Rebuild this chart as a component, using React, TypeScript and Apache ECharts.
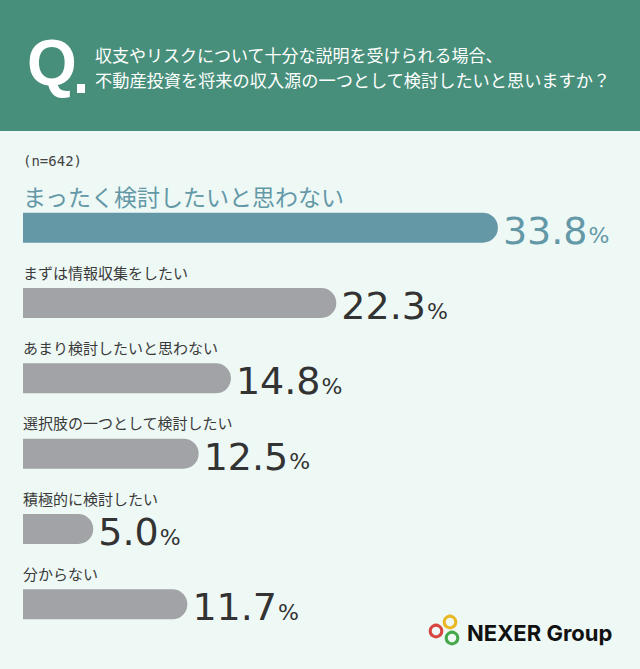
import React, { useEffect, useRef } from "react";
import * as echarts from "echarts";

const categories = [
  "まったく検討したいと思わない",
  "まずは情報収集をしたい",
  "あまり検討したいと思わない",
  "選択肢の一つとして検討したい",
  "積極的に検討したい",
  "分からない",
];
const values = [33.8, 22.3, 14.8, 12.5, 5.0, 11.7];
const questionLines = [
  "収支やリスクについて十分な説明を受けられる場合、",
  "不動産投資を将来の収入源の一つとして検討したいと思いますか？",
];
const sampleNote = "(n=642)";
const brandName = "NEXER Group";

const TEAL = "#6498a7";
const GRAY = "#a1a3a6";
const DARK = "#333333";
const HEADER = "#478f7a";
const BG = "#eef9f6";
const JP = "'Noto Sans CJK JP', 'Noto Sans', sans-serif";
const NUM = "'DejaVu Sans', 'Noto Sans', sans-serif";

export default function App() {
  const ref = useRef<HTMLDivElement>(null);
  useEffect(() => {
    document.body.style.margin = "0";
    const chart = echarts.init(ref.current!, null, { renderer: "svg" });
    const valueData = values.map((v, i) => {
      const c = i === 0 ? TEAL : DARK;
      return {
        value: v,
        itemStyle: { color: i === 0 ? TEAL : GRAY },
        label: {
          rich: {
            n: { fontSize: 38, fontFamily: NUM, color: c, fontWeight: 400, lineHeight: 40, verticalAlign: "bottom" },
            p: { fontSize: 22, fontFamily: NUM, color: c, fontWeight: 400, lineHeight: 40, verticalAlign: "bottom", padding: [0, 0, 3, 1] },
          },
        },
      };
    });
    const nameData = values.map((v, i) => ({
      value: v,
      label:
        i === 0
          ? { fontSize: 23, color: TEAL, position: [0, -17] }
          : { fontSize: 15, color: "#3a3a3a", position: [0, -16] },
    }));
    chart.setOption({
      animation: false,
      backgroundColor: BG,
      grid: { left: 23, width: 562, top: 190, height: 452 },
      xAxis: { type: "value", min: 0, max: 40, show: false },
      yAxis: { type: "category", data: categories, inverse: true, show: false },
      series: [
        {
          type: "bar",
          data: valueData,
          barWidth: 30,
          silent: true,
          itemStyle: { borderRadius: [0, 15, 15, 0] },
          label: {
            show: true,
            position: "right",
            distance: 5,
            offset: [0, 2],
            formatter: (p: any) => `{n|${Number(p.value).toFixed(1)}}{p|%}`,
          },
        },
        {
          type: "bar",
          data: nameData,
          barWidth: 30,
          barGap: "-100%",
          silent: true,
          itemStyle: { color: "rgba(0,0,0,0)" },
          label: {
            show: true,
            position: [0, -16],
            align: "left",
            verticalAlign: "middle",
            lineHeight: 16,
            fontFamily: JP,
            formatter: "{b}",
          },
        },
      ],
      graphic: [
        { type: "rect", shape: { x: 0, y: 0, width: 640, height: 131 }, style: { fill: HEADER }, silent: true },
        {
          type: "text",
          x: 27,
          y: 95,
          style: {
            text: "Q",
            fill: "#ffffff",
            font: "bold 64px 'Liberation Sans Narrow', 'Liberation Sans', sans-serif",
            textVerticalAlign: "bottom",
          },
        },
        { type: "rect", shape: { x: 77, y: 84, width: 8, height: 9 }, style: { fill: "#ffffff" } },
        {
          type: "text",
          x: 95,
          y: 54,
          style: { text: questionLines[0], fill: "#ffffff", font: `17px ${JP}`, textVerticalAlign: "middle" },
        },
        {
          type: "text",
          x: 95,
          y: 79,
          style: { text: questionLines[1], fill: "#ffffff", font: `17.2px ${JP}`, textVerticalAlign: "middle" },
        },
        {
          type: "text",
          x: 23,
          y: 161,
          style: { text: sampleNote, fill: "#444444", font: "14px 'DejaVu Sans Mono', monospace", textVerticalAlign: "middle" },
        },
        { type: "circle", shape: { cx: 450, cy: 622, r: 5.8 }, style: { fill: "none", stroke: "#e9b824", lineWidth: 3 } },
        { type: "circle", shape: { cx: 436, cy: 631, r: 5.8 }, style: { fill: "none", stroke: "#d8453f", lineWidth: 3 } },
        { type: "circle", shape: { cx: 452, cy: 638, r: 5.8 }, style: { fill: "none", stroke: "#45a84a", lineWidth: 3 } },
        {
          type: "text",
          x: 467,
          y: 633,
          style: { text: brandName, fill: "#111111", font: "bold 22px Inter, sans-serif", textVerticalAlign: "middle" },
        },
      ],
    });
    return () => chart.dispose();
  }, []);
  return <div ref={ref} style={{ width: 640, height: 669, background: BG }} />;
}
